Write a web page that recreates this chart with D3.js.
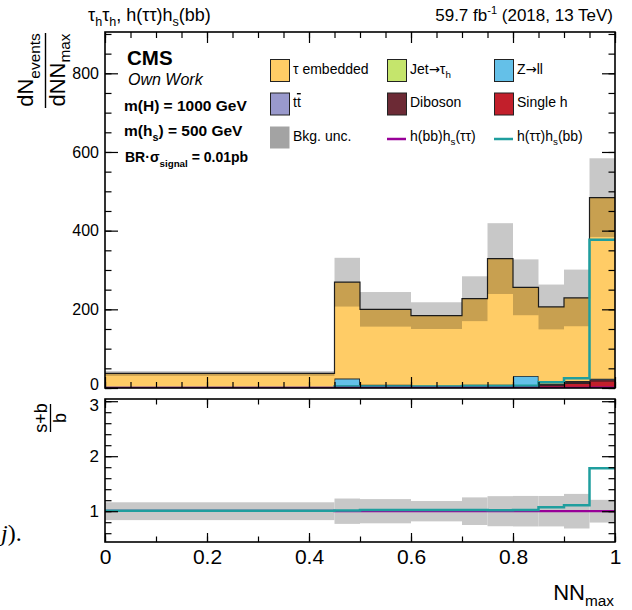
<!DOCTYPE html>
<html>
<head>
<meta charset="utf-8">
<script src="https://cdn.jsdelivr.net/npm/d3@7"></script>
<style>
  body { margin: 0; background: #fff; }
  svg { font-family: 'Liberation Sans', Arial, Helvetica, sans-serif; }
  .axis path.domain { display: none; }
  .axis line { stroke: #000; stroke-width: 1.2; }
  .axis text { fill: #000; }
</style>
</head>
<body>
<div id="chart"></div>
<script>
// NN_max bin edges (first bin is wide)
const binEdges = [0, 0.45, 0.5, 0.6, 0.7, 0.75, 0.8, 0.85, 0.9, 0.95, 1.0];

// background yields per bin, stacked bottom -> top
const singleH = [0.3, 0.5, 0.5, 0.5, 0.8, 1, 1.5, 6, 12, 18];
const diboson = [0.8, 3, 3, 2.5, 2.5, 2.5, 2, 2, 3, 3];
const ttbar = [0.5, 2.5, 2, 1.5, 2, 2, 2, 1.5, 1.5, 1.5];
const zll = [1, 17.5, 2.5, 1.5, 3, 3, 25, 1, 1, 1];
const jetFakes = [0, 0.5, 0, 0, 0, 0, 0, 0, 0, 0];
const tauEmbedded = [34.4, 245, 192, 178, 218.7, 320.5, 225.5, 195.5, 211.5, 460.5];
const bkgUnc = [6, 62, 44, 34, 57, 90, 71, 57, 72, 100];

// signals (not stacked)
const sigBBTT = [0.2, 0.3, 0.3, 0.3, 0.3, 0.3, 0.3, 0.4, 0.5, 0.8];
const sigTTBB = [0.3, 4, 4, 4, 5, 5, 6, 14.5, 25, 377];

const yTicks = [0, 200, 400, 600, 800];
const ratioTicks = [1, 2, 3];
const xTicks = [0, 0.2, 0.4, 0.6, 0.8, 1];

const colors = {
  'Single h': '#c21f2b',
  Diboson: '#6c2a35',
  'tt': '#9999cc',
  'Z->ll': '#64c0e8',
  'Jet->tau': '#c5e56c',
  'tau emb': '#ffcc66'
};
const teal = '#1f9e9e';
const purple = '#980098';

const stackKeys = ['Single h', 'Diboson', 'tt', 'Z->ll', 'Jet->tau', 'tau emb'];
const stackSeries = [singleH, diboson, ttbar, zll, jetFakes, tauEmbedded];
const rows = binEdges.slice(0, -1).map((e, i) => {
  const r = {};
  stackKeys.forEach((k, j) => (r[k] = stackSeries[j][i]));
  return r;
});
const totals = rows.map(r => d3.sum(stackKeys, k => r[k]));

const width = 632;
const height = 610;
const margin = { left: 105, right: 17 };
const mainPanel = { y0: 32, y1: 388 };
const ratioPanel = { y0: 399, y1: 542 };

const svg = d3
  .select('#chart')
  .append('svg')
  .attr('width', width)
  .attr('height', height);

const x = d3
  .scaleLinear()
  .domain([0, 1])
  .range([margin.left, width - margin.right]);
const y = d3
  .scaleLinear()
  .domain([0, 905])
  .range([mainPanel.y1, mainPanel.y0]);
const yr = d3
  .scaleLinear()
  .domain([0.44, 3.04])
  .range([ratioPanel.y1, ratioPanel.y0]);

// repeat last value so step curves reach the final edge
const stepData = vals => binEdges.map((e, i) => vals[Math.min(i, vals.length - 1)]);

svg
  .append('clipPath')
  .attr('id', 'clipTop')
  .append('rect')
  .attr('x', x(0))
  .attr('y', mainPanel.y0)
  .attr('width', x(1) - x(0))
  .attr('height', mainPanel.y1 - mainPanel.y0);
svg
  .append('clipPath')
  .attr('id', 'clipLow')
  .append('rect')
  .attr('x', x(0))
  .attr('y', ratioPanel.y0)
  .attr('width', x(1) - x(0))
  .attr('height', ratioPanel.y1 - ratioPanel.y0);

const topBody = svg.append('g').attr('clip-path', 'url(#clipTop)');
const lowBody = svg.append('g').attr('clip-path', 'url(#clipLow)');

// stacked backgrounds
const stacked = d3.stack().keys(stackKeys)(rows);
const area = d3
  .area()
  .x((d, i) => x(binEdges[i]))
  .y0(d => y(d[0]))
  .y1(d => y(d[1]))
  .curve(d3.curveStepAfter);
const outline = d3
  .line()
  .x((d, i) => x(binEdges[i]))
  .y(d => y(d[1]))
  .curve(d3.curveStepAfter);

stacked.forEach(s => {
  const pts = stepData(s);
  topBody
    .append('path')
    .datum(pts)
    .attr('fill', colors[s.key])
    .attr('d', area);
  topBody
    .append('path')
    .datum(pts)
    .attr('fill', 'none')
    .attr('stroke', '#222')
    .attr('stroke-width', 1.2)
    .attr('d', outline);
});

// background uncertainty band
topBody
  .selectAll('rect.unc')
  .data(totals)
  .enter()
  .append('rect')
  .attr('class', 'unc')
  .attr('x', (d, i) => x(binEdges[i]))
  .attr('width', (d, i) => x(binEdges[i + 1]) - x(binEdges[i]))
  .attr('y', (d, i) => y(d + bkgUnc[i]))
  .attr('height', (d, i) => y(d - bkgUnc[i]) - y(d + bkgUnc[i]))
  .attr('fill', '#000')
  .attr('opacity', 0.215);

const sigLine = d3
  .line()
  .x((d, i) => x(binEdges[i]))
  .y(d => y(d))
  .curve(d3.curveStepAfter);

topBody
  .append('path')
  .datum(stepData(sigTTBB))
  .attr('fill', 'none')
  .attr('stroke', teal)
  .attr('stroke-width', 2.5)
  .attr('d', sigLine);
topBody
  .append('path')
  .datum(stepData(sigBBTT))
  .attr('fill', 'none')
  .attr('stroke', purple)
  .attr('stroke-width', 2.2)
  .attr('d', sigLine);

// ratio panel
lowBody
  .selectAll('rect.unc')
  .data(totals)
  .enter()
  .append('rect')
  .attr('class', 'unc')
  .attr('x', (d, i) => x(binEdges[i]))
  .attr('width', (d, i) => x(binEdges[i + 1]) - x(binEdges[i]))
  .attr('y', (d, i) => yr(1 + bkgUnc[i] / d))
  .attr('height', (d, i) => yr(1 - bkgUnc[i] / d) - yr(1 + bkgUnc[i] / d))
  .attr('fill', '#c8c8c8');

const ratioLine = d3
  .line()
  .x((d, i) => x(binEdges[i]))
  .y(d => yr(d))
  .curve(d3.curveStepAfter);

lowBody
  .append('path')
  .datum(stepData(sigBBTT.map((s, i) => (totals[i] + s) / totals[i])))
  .attr('fill', 'none')
  .attr('stroke', purple)
  .attr('stroke-width', 2.2)
  .attr('d', ratioLine);
lowBody
  .append('path')
  .datum(stepData(sigTTBB.map((s, i) => (totals[i] + s) / totals[i])))
  .attr('fill', 'none')
  .attr('stroke', teal)
  .attr('stroke-width', 2.5)
  .attr('d', ratioLine);

// axes: ticks point inward on all four sides
const addAxis = (axis, tx, ty, fontSize) =>
  svg
    .append('g')
    .attr('class', 'axis')
    .attr('transform', 'translate(' + tx + ',' + ty + ')')
    .style('font-size', fontSize + 'px')
    .call(axis);

const noLabel = () => '';

const yAxisMain = addAxis(d3.axisLeft(y).tickValues(yTicks).tickSize(-13).tickPadding(6), x(0), 0, 16);
addAxis(d3.axisLeft(y).tickValues(d3.range(0, 901, 50)).tickSize(-6.5).tickFormat(noLabel), x(0), 0, 16);
addAxis(d3.axisRight(y).tickValues(yTicks).tickSize(-13).tickFormat(noLabel), x(1), 0, 16);
addAxis(d3.axisRight(y).tickValues(d3.range(0, 901, 50)).tickSize(-6.5).tickFormat(noLabel), x(1), 0, 16);
addAxis(d3.axisBottom(x).tickValues(xTicks).tickSize(-11).tickFormat(noLabel), 0, mainPanel.y1, 16);
addAxis(d3.axisBottom(x).tickValues(d3.range(0, 1.001, 0.05)).tickSize(-6).tickFormat(noLabel), 0, mainPanel.y1, 16);
addAxis(d3.axisTop(x).tickValues(xTicks).tickSize(-11).tickFormat(noLabel), 0, mainPanel.y0, 16);
addAxis(d3.axisTop(x).tickValues(d3.range(0, 1.001, 0.05)).tickSize(-6).tickFormat(noLabel), 0, mainPanel.y0, 16);

const yAxisRatio = addAxis(d3.axisLeft(yr).tickValues(ratioTicks).tickSize(-13).tickPadding(6).tickFormat(d3.format('d')), x(0), 0, 17);
addAxis(d3.axisLeft(yr).tickValues(d3.range(0.6, 3.01, 0.2)).tickSize(-6.5).tickFormat(noLabel), x(0), 0, 16);
addAxis(d3.axisRight(yr).tickValues(ratioTicks).tickSize(-13).tickFormat(noLabel), x(1), 0, 16);
addAxis(d3.axisRight(yr).tickValues(d3.range(0.6, 3.01, 0.2)).tickSize(-6.5).tickFormat(noLabel), x(1), 0, 16);
addAxis(d3.axisBottom(x).tickValues(xTicks).tickSize(-9).tickPadding(7).tickFormat(d3.format('~g')), 0, ratioPanel.y1, 21);
addAxis(d3.axisBottom(x).tickValues(d3.range(0, 1.001, 0.1)).tickSize(-5.5).tickFormat(noLabel), 0, ratioPanel.y1, 16);
addAxis(d3.axisTop(x).tickValues(xTicks).tickSize(-9).tickFormat(noLabel), 0, ratioPanel.y0, 16);
addAxis(d3.axisTop(x).tickValues(d3.range(0, 1.001, 0.1)).tickSize(-5.5).tickFormat(noLabel), 0, ratioPanel.y0, 16);

// keep the "0" and "3" labels at the panel joint apart
yAxisMain.selectAll('.tick text').filter(d => d === 0).attr('y', -4);
yAxisRatio.selectAll('.tick text').filter(d => d === 3).attr('y', 4);

// frames
[mainPanel, ratioPanel].forEach(p => {
  svg
    .append('rect')
    .attr('x', x(0))
    .attr('y', p.y0)
    .attr('width', x(1) - x(0))
    .attr('height', p.y1 - p.y0)
    .attr('fill', 'none')
    .attr('stroke', '#000')
    .attr('stroke-width', 1.6);
});

// helper for text with sub/superscripts: parts = [[text, kind, shift]]
const richText = (g, px, py, size, parts, opts = {}) => {
  const t = g
    .append('text')
    .attr('x', px)
    .attr('y', py)
    .style('font-size', size + 'px')
    .attr('text-anchor', opts.anchor || 'start')
    .attr('font-weight', opts.weight || 'normal')
    .attr('font-style', opts.style || 'normal');
  if (opts.transform) t.attr('transform', opts.transform);
  let shift = 0;
  parts.forEach(([s, kind, extra]) => {
    const span = t.append('tspan').text(s);
    let target = 0;
    if (kind === 'sub') {
      target = extra != null ? extra : size * 0.3;
      span.style('font-size', size * 0.7 + 'px');
    } else if (kind === 'sup') {
      target = -size * 0.4;
      span.style('font-size', size * 0.65 + 'px');
    } else if (kind === 'bar') {
      span.style('text-decoration', 'overline');
    } else if (kind === 'arrow') {
      span.style('font-family', "'DejaVu Sans', sans-serif").style('font-size', size * 0.95 + 'px');
    }
    span.attr('dy', target - shift);
    shift = target;
  });
  return t;
};

// header
richText(svg, 88, 21, 18, [['τ'], ['h', 'sub'], ['τ'], ['h', 'sub'], [', h(ττ)h'], ['s', 'sub'], ['(bb)']]);
richText(svg, 613, 21, 17, [['59.7 fb'], ['-1', 'sup'], [' (2018, 13 TeV)']], { anchor: 'end' });

// CMS block
richText(svg, 127, 65, 20.5, [['CMS']], { weight: 'bold' });
richText(svg, 128, 85, 16, [['Own Work']], { style: 'italic' });
richText(svg, 124, 111, 15.5, [['m(H) = 1000 GeV']], { weight: 'bold' });
richText(svg, 124, 136, 15.5, [['m(h'], ['s', 'sub'], [') = 500 GeV']], { weight: 'bold' });
richText(svg, 125, 162, 14, [['BR'], ['·', null], ['σ'], ['signal', 'sub', 5], [' = 0.01pb']], { weight: 'bold' });

// legend
const legCols = [270, 387, 494];
const legRows = [70.5, 104, 137.5];
const legendItems = [
  { key: 'tau emb', parts: [['τ embedded']], col: 0, row: 0 },
  { key: 'Jet->tau', parts: [['Jet'], ['→', 'arrow'], ['τ'], ['h', 'sub']], col: 1, row: 0 },
  { key: 'Z->ll', parts: [['Z'], ['→', 'arrow'], ['ll']], col: 2, row: 0 },
  { key: 'tt', parts: [['t'], ['t', 'bar']], col: 0, row: 1 },
  { key: 'Diboson', parts: [['Diboson']], col: 1, row: 1 },
  { key: 'Single h', parts: [['Single h']], col: 2, row: 1 },
  { key: 'unc', parts: [['Bkg. unc.']], col: 0, row: 2 },
  { key: 'bbtt', parts: [['h(bb)h'], ['s', 'sub'], ['(ττ)']], col: 1, row: 2 },
  { key: 'ttbb', parts: [['h(ττ)h'], ['s', 'sub'], ['(bb)']], col: 2, row: 2 }
];
const legend = svg.append('g');
legendItems.forEach(it => {
  const lx = legCols[it.col];
  const ly = legRows[it.row];
  if (it.key === 'bbtt' || it.key === 'ttbb') {
    legend
      .append('line')
      .attr('x1', lx)
      .attr('x2', lx + 19)
      .attr('y1', ly + 1.5)
      .attr('y2', ly + 1.5)
      .attr('stroke', it.key === 'bbtt' ? purple : teal)
      .attr('stroke-width', 2.5);
  } else if (it.key === 'unc') {
    legend
      .append('rect')
      .attr('x', lx)
      .attr('y', ly - 11)
      .attr('width', 19.5)
      .attr('height', 22)
      .attr('fill', '#a3a3a3');
  } else {
    legend
      .append('rect')
      .attr('x', lx + 0.5)
      .attr('y', ly - 11)
      .attr('width', 19)
      .attr('height', 22)
      .attr('fill', colors[it.key])
      .attr('stroke', '#222')
      .attr('stroke-width', 1);
  }
  richText(legend, lx + 23, ly + 3, 14, it.parts);
});

// y titles
richText(svg, 33, 70, 22, [['dN'], ['events', 'sub', 7]], { anchor: 'middle', transform: 'rotate(-90,33,70)' });
richText(svg, 65, 70, 22, [['dNN'], ['max', 'sub', 5]], { anchor: 'middle', transform: 'rotate(-90,65,70)' });
svg
  .append('line')
  .attr('x1', 45.5)
  .attr('x2', 45.5)
  .attr('y1', 33)
  .attr('y2', 108)
  .attr('stroke', '#000')
  .attr('stroke-width', 1.4);

richText(svg, 47, 418, 18, [['s+b']], { anchor: 'middle', transform: 'rotate(-90,47,418)' });
richText(svg, 66, 418, 18, [['b']], { anchor: 'middle', transform: 'rotate(-90,66,418)' });
svg
  .append('line')
  .attr('x1', 50.5)
  .attr('x2', 50.5)
  .attr('y1', 404)
  .attr('y2', 432)
  .attr('stroke', '#000')
  .attr('stroke-width', 1.3);

// x title
richText(svg, 614, 600, 22, [['NN'], ['max', 'sub', 6]], { anchor: 'end' });

// fragment of neighbouring page text at the left edge
const frag = svg
  .append('text')
  .attr('x', 1)
  .attr('y', 541)
  .style('font-family', "'Liberation Serif', 'DejaVu Serif', serif")
  .style('font-size', '24px');
frag.append('tspan').attr('font-style', 'italic').text('j');
frag.append('tspan').text(').');
</script>
</body>
</html>
